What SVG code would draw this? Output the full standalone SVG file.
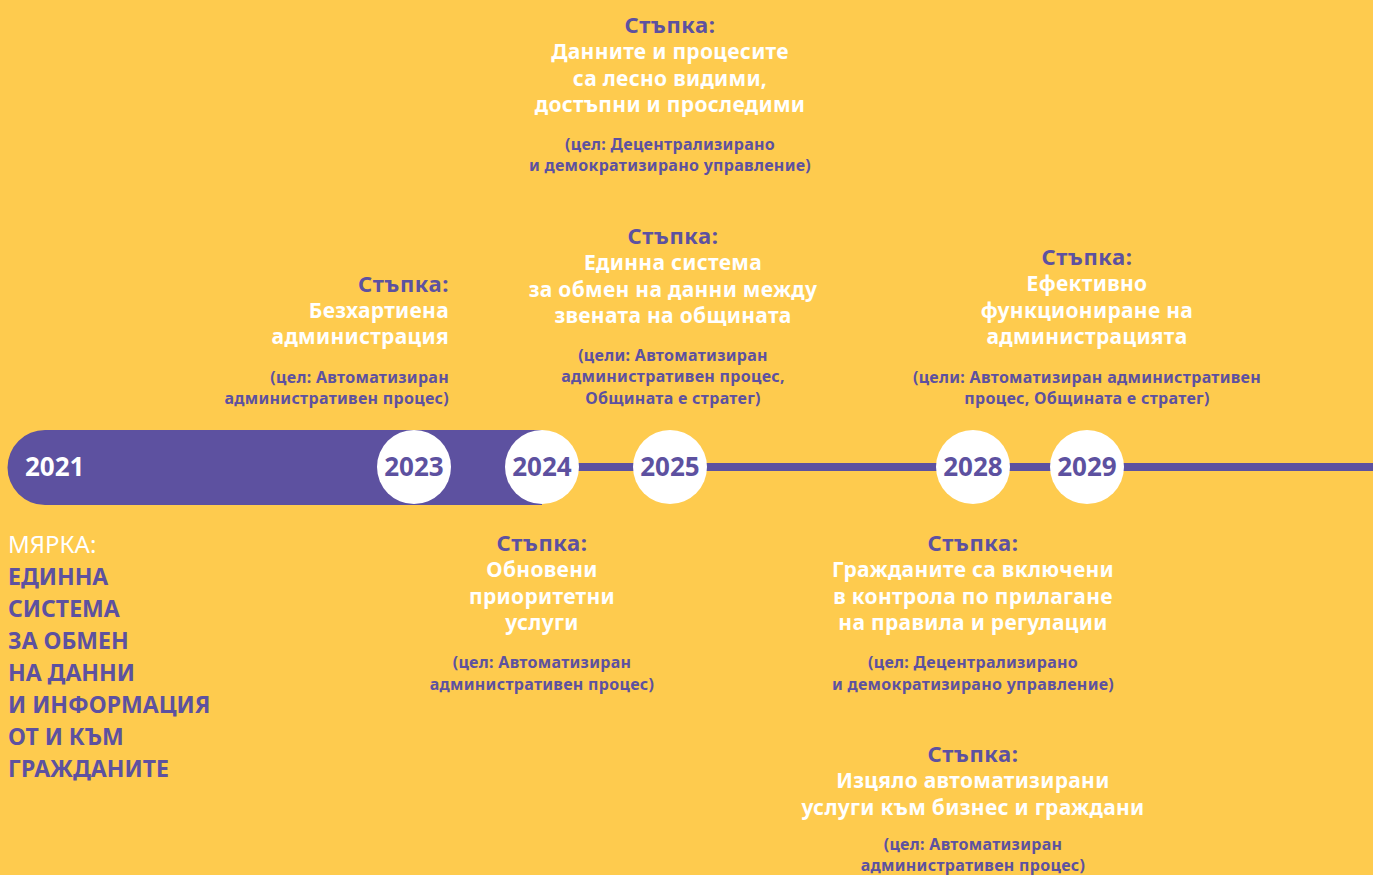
<svg xmlns="http://www.w3.org/2000/svg" width="1373" height="875" viewBox="0 0 1373 875">
<style>
text{font-family:"Noto Sans","Liberation Sans",sans-serif;font-weight:bold}
.h{fill:#5D51A0;font-size:22px;letter-spacing:0.6px}
.b{fill:#FFFFFF;font-size:21px;letter-spacing:0.3px}
.g{fill:#5D51A0;font-size:16px;letter-spacing:0.3px}
.c{text-anchor:middle}
.r{text-anchor:end}
.yr{fill:#5D51A0;font-size:26px;text-anchor:middle}
.m{fill:#5D51A0;font-size:23px}
.node circle{fill:#FFFFFF}
</style>
<rect x="0" y="0" width="1373" height="875" fill="#FECB4E"/>
<g id="connectors">
<rect x="530" y="463" width="843" height="8" fill="#5D51A0"/>
<path d="M45,430 H542 V505 H45 A37.5,37.5 0 0 1 45,430 Z" fill="#5D51A0"/>
</g>
<g id="y2021"><text x="25" y="476" style="fill:#fff;font-size:26px">2021</text></g>
<g id="y2023" class="node"><circle cx="414" cy="467" r="37"/><text class="yr" x="414" y="476">2023</text></g>
<g id="y2024" class="node"><circle cx="542" cy="467" r="37"/><text class="yr" x="542" y="476">2024</text></g>
<g id="y2025" class="node"><circle cx="670" cy="467" r="37"/><text class="yr" x="670" y="476">2025</text></g>
<g id="y2028" class="node"><circle cx="973" cy="467" r="37"/><text class="yr" x="973" y="476">2028</text></g>
<g id="y2029" class="node"><circle cx="1087" cy="467" r="37"/><text class="yr" x="1087" y="476">2029</text></g>

<g id="step-top">
<text class="h c" x="670" y="33">Стъпка:</text>
<text class="b c" x="670" y="59">Данните и процесите</text>
<text class="b c" x="670" y="86">са лесно видими,</text>
<text class="b c" x="670" y="112">достъпни и проследими</text>
<text class="g c" x="670" y="150">(цел: Децентрализирано</text>
<text class="g c" x="670" y="171">и демократизирано управление)</text>
</g>

<g id="step-2023">
<text class="h r" x="449" y="292">Стъпка:</text>
<text class="b r" x="449" y="318">Безхартиена</text>
<text class="b r" x="449" y="344">администрация</text>
<text class="g r" x="449" y="383">(цел: Автоматизиран</text>
<text class="g r" x="449" y="404">административен процес)</text>
</g>

<g id="step-2025">
<text class="h c" x="673" y="244">Стъпка:</text>
<text class="b c" x="673" y="270">Единна система</text>
<text class="b c" x="673" y="297">за обмен на данни между</text>
<text class="b c" x="673" y="323">звената на общината</text>
<text class="g c" x="673" y="361">(цели: Автоматизиран</text>
<text class="g c" x="673" y="382">административен процес,</text>
<text class="g c" x="673" y="404">Общината е стратег)</text>
</g>

<g id="step-2029">
<text class="h c" x="1087" y="265">Стъпка:</text>
<text class="b c" x="1087" y="291">Ефективно</text>
<text class="b c" x="1087" y="318">функциониране на</text>
<text class="b c" x="1087" y="344">администрацията</text>
<text class="g c" x="1087" y="383">(цели: Автоматизиран административен</text>
<text class="g c" x="1087" y="404">процес, Общината е стратег)</text>
</g>

<g id="step-2024-bottom">
<text class="h c" x="542" y="551">Стъпка:</text>
<text class="b c" x="542" y="577">Обновени</text>
<text class="b c" x="542" y="604">приоритетни</text>
<text class="b c" x="542" y="630">услуги</text>
<text class="g c" x="542" y="668">(цел: Автоматизиран</text>
<text class="g c" x="542" y="690">административен процес)</text>
</g>

<g id="step-2028-bottom">
<text class="h c" x="973" y="551">Стъпка:</text>
<text class="b c" x="973" y="577">Гражданите са включени</text>
<text class="b c" x="973" y="604">в контрола по прилагане</text>
<text class="b c" x="973" y="630">на правила и регулации</text>
<text class="g c" x="973" y="668">(цел: Децентрализирано</text>
<text class="g c" x="973" y="690">и демократизирано управление)</text>
</g>

<g id="step-2028-bottom2">
<text class="h c" x="973" y="762">Стъпка:</text>
<text class="b c" x="973" y="788">Изцяло автоматизирани</text>
<text class="b c" x="973" y="815">услуги към бизнес и граждани</text>
<text class="g c" x="973" y="850">(цел: Автоматизиран</text>
<text class="g c" x="973" y="871">административен процес)</text>
</g>

<g id="measure">
<text x="8" y="553" style="fill:#fff;font-size:24px;font-weight:normal">МЯРКА:</text>
<text class="m" x="8" y="585">ЕДИННА</text>
<text class="m" x="8" y="617">СИСТЕМА</text>
<text class="m" x="8" y="649">ЗА ОБМЕН</text>
<text class="m" x="8" y="681">НА ДАННИ</text>
<text class="m" x="8" y="713">И ИНФОРМАЦИЯ</text>
<text class="m" x="8" y="745">ОТ И КЪМ</text>
<text class="m" x="8" y="777">ГРАЖДАНИТЕ</text>
</g>
</svg>
